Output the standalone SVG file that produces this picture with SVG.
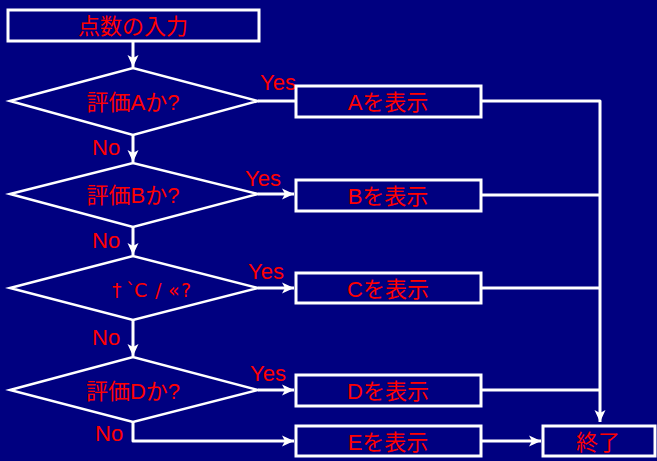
<svg xmlns="http://www.w3.org/2000/svg" width="657" height="461" viewBox="0 0 657 461">
<style>
.shape{fill:#000080;stroke:#FFFFFF;stroke-width:3}
.dia{fill:#000080;stroke:#FFFFFF;stroke-width:2.5}
.lbl{font-family:"Liberation Sans","Noto Sans CJK JP",sans-serif;font-size:22px;fill:#FF0000;text-anchor:middle}
.yn{font-family:"Liberation Sans","Noto Sans CJK JP",sans-serif;font-size:22px;fill:#FF0000}
.con{fill:none;stroke:#FFFFFF;stroke-width:3;stroke-linejoin:round}
</style>
<defs>
<marker id="ah" markerUnits="userSpaceOnUse" markerWidth="14" markerHeight="14" refX="12" refY="7" orient="auto">
<path d="M0,1.5 L12,7 L0,12.5 L3,7 z" fill="#FFFFFF"/>
</marker>
</defs>
<rect width="657" height="461" fill="#000080"/>
<g id="connectors">
<path class="con" d="M133,42 V67" marker-end="url(#ah)"/>
<path class="con" d="M133,135 V162" marker-end="url(#ah)"/>
<path class="con" d="M133,227 V255" marker-end="url(#ah)"/>
<path class="con" d="M133,320 V356" marker-end="url(#ah)"/>
<path class="con" d="M258,101 H296"/>
<path class="con" d="M258,194 H294" marker-end="url(#ah)"/>
<path class="con" d="M258,288 H294" marker-end="url(#ah)"/>
<path class="con" d="M258,390 H294" marker-end="url(#ah)"/>
<path class="con" d="M133,422 V441 H294" marker-end="url(#ah)"/>
<path class="con" d="M481,101 H600 V422" marker-end="url(#ah)"/>
<path class="con" d="M481,195 H600"/>
<path class="con" d="M481,288 H600"/>
<path class="con" d="M481,390 H600"/>
<path class="con" d="M481,441 H541" marker-end="url(#ah)"/>
<text class="yn" x="260" y="90">Yes</text>
<text class="yn" x="245" y="186">Yes</text>
<text class="yn" x="248" y="279">Yes</text>
<text class="yn" x="250" y="381">Yes</text>
<text class="yn" x="92" y="155">No</text>
<text class="yn" x="92" y="248">No</text>
<text class="yn" x="92" y="345">No</text>
<text class="yn" x="95" y="441">No</text>
</g>
<g id="start">
<rect class="shape" x="8" y="10" width="251" height="31"/>
<text class="lbl" x="133" y="34">点数の入力</text>
</g>
<g id="decA">
<polygon class="dia" points="10,101 133,68 258,101 133,135"/>
<text class="lbl" x="133" y="110">評価Aか?</text>
</g>
<g id="decB">
<polygon class="dia" points="10,194 133,163 258,194 133,227"/>
<text class="lbl" x="133" y="203">評価Bか?</text>
</g>
<g id="decC">
<polygon class="dia" points="10,288 133,256 258,288 133,320"/>
<text style="font-family:'DejaVu Sans',sans-serif;font-size:19px;fill:#FF0000" x="112 126 134 155 168 181" y="297">†`C/«?</text>
</g>
<g id="decD">
<polygon class="dia" points="10,390 133,357 258,390 133,422"/>
<text class="lbl" x="133" y="399">評価Dか?</text>
</g>
<g id="showA">
<rect class="shape" x="296" y="86" width="185" height="31"/>
<text class="lbl" x="388" y="110">Aを表示</text>
</g>
<g id="showB">
<rect class="shape" x="296" y="180" width="185" height="31"/>
<text class="lbl" x="388" y="204">Bを表示</text>
</g>
<g id="showC">
<rect class="shape" x="296" y="273" width="185" height="30"/>
<text class="lbl" x="388" y="297">Cを表示</text>
</g>
<g id="showD">
<rect class="shape" x="296" y="375" width="185" height="31"/>
<text class="lbl" x="388" y="399">Dを表示</text>
</g>
<g id="showE">
<rect class="shape" x="296" y="426" width="185" height="30"/>
<text class="lbl" x="388" y="450">Eを表示</text>
</g>
<g id="end">
<rect class="shape" x="543" y="426" width="112" height="30"/>
<text class="lbl" x="598" y="450">終了</text>
</g>
</svg>
